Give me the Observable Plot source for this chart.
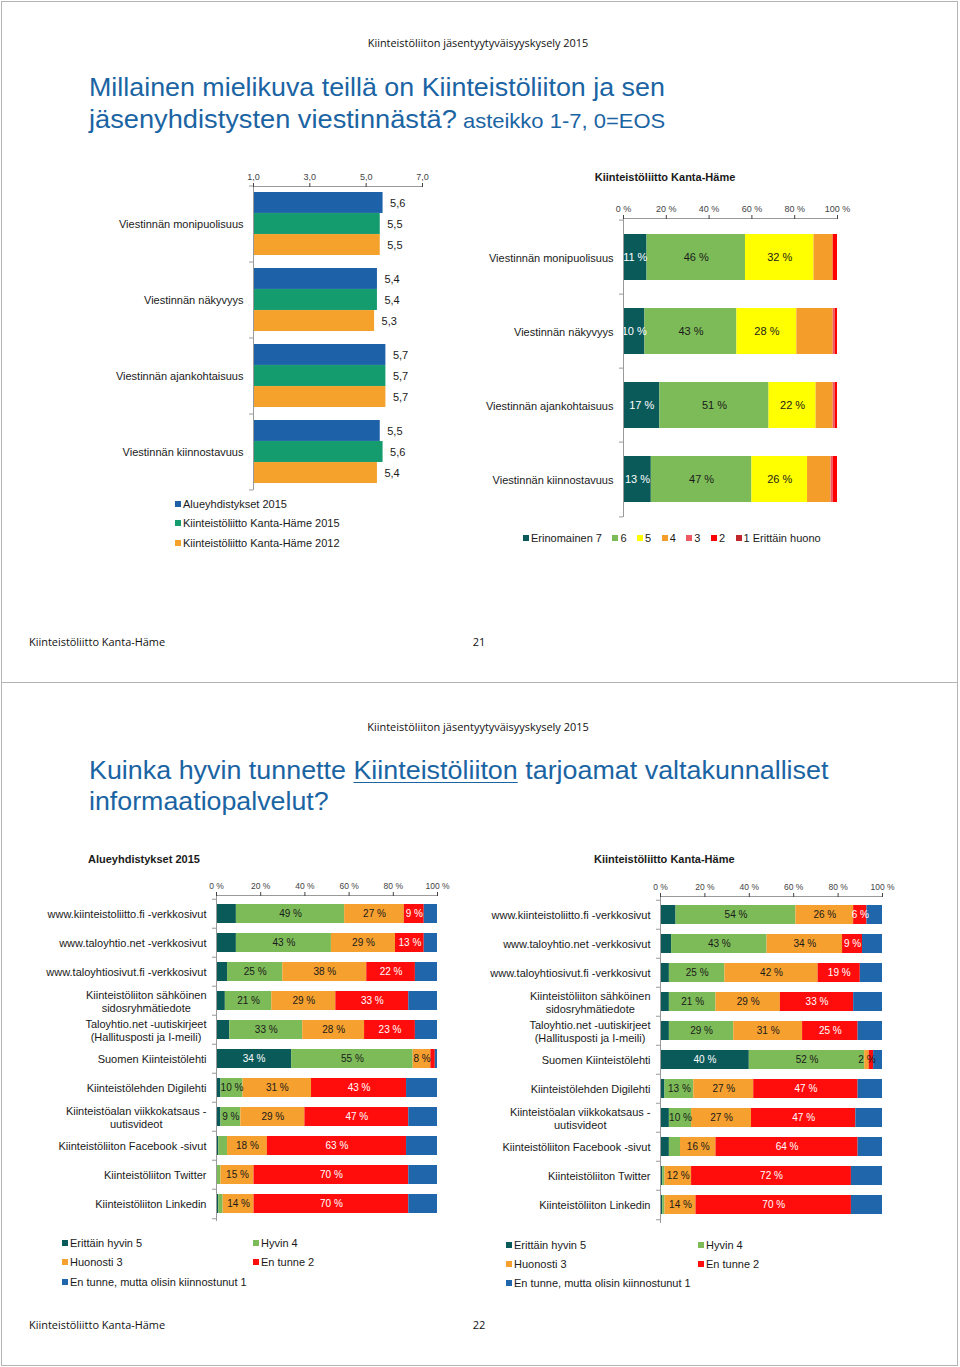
<!DOCTYPE html>
<html>
<head>
<meta charset="utf-8">
<script src="https://cdn.jsdelivr.net/npm/d3@7"></script>
<script src="https://cdn.jsdelivr.net/npm/@observablehq/plot@0.6"></script>
<style>
  body { margin: 0; background: #fff; }
  #page { position: relative; width: 960px; height: 1367px; overflow: hidden; background: #fff;
          font-family: "Liberation Sans", Arial, Helvetica, sans-serif; }
  .t { position: absolute; white-space: nowrap; line-height: 1; }
  .frame { position: absolute; border: 1px solid #b4b4b4; box-sizing: border-box; }
  .sq { position: absolute; width: 6px; height: 6px; }
  svg { position: absolute; overflow: visible; }
</style>
</head>
<body>
<div id="page"></div>
<script>
// ---------------- DATA ----------------
// Page 21: mean ratings (scale 1-7)
const ratingCategories = ["Viestinnän monipuolisuus", "Viestinnän näkyvyys", "Viestinnän ajankohtaisuus", "Viestinnän kiinnostavuus"];
const meanSeries = ["Alueyhdistykset 2015", "Kiinteistöliitto Kanta-Häme 2015", "Kiinteistöliitto Kanta-Häme 2012"];
const meanAlue2015 = [5.6, 5.4, 5.7, 5.5];
const meanKH2015   = [5.5, 5.4, 5.7, 5.6];
const meanKH2012   = [5.5, 5.3, 5.7, 5.4];
const meanTicks = [1, 3, 5, 7];

// Page 21: distribution of grades, Kiinteistöliitto Kanta-Häme (%)
const gradeSeries = ["Erinomainen 7", "6", "5", "4", "3", "2", "1 Erittäin huono"];
const grade7 = [11, 10, 17, 13];
const grade6 = [46, 43, 51, 47];
const grade5 = [32, 28, 22, 26];
const grade4 = [9, 17, 8, 11];
const grade3 = [0, 1, 1, 1];
const grade2 = [2, 1, 1, 2];
const grade1 = [0, 0, 0, 0];

// Page 22: how well services are known (%)
const serviceCategories = [
  "www.kiinteistoliitto.fi -verkkosivut",
  "www.taloyhtio.net -verkkosivut",
  "www.taloyhtiosivut.fi -verkkosivut",
  "Kiinteistöliiton sähköinen\nsidosryhmätiedote",
  "Taloyhtio.net -uutiskirjeet\n(Hallitusposti ja I-meili)",
  "Suomen Kiinteistölehti",
  "Kiinteistölehden Digilehti",
  "Kiinteistöalan viikkokatsaus -\nuutisvideot",
  "Kiinteistöliiton Facebook -sivut",
  "Kiinteistöliiton Twitter",
  "Kiinteistöliiton Linkedin"
];
const knowSeries = ["Erittäin hyvin 5", "Hyvin 4", "Huonosti 3", "En tunne 2", "En tunne, mutta olisin kiinnostunut 1"];
// Alueyhdistykset 2015
const alueHyvin5        = [9, 9, 5, 4, 6, 34, 2, 2, 1, 0, 1];
const alueHyvin4        = [49, 43, 25, 21, 33, 55, 10, 9, 4, 2, 2];
const alueHuonosti3     = [27, 29, 38, 29, 28, 8, 31, 29, 18, 15, 14];
const alueEnTunne2      = [9, 13, 22, 33, 23, 2, 43, 47, 63, 70, 70];
const alueKiinnostunut1 = [6, 6, 10, 13, 10, 1, 14, 13, 14, 13, 13];
// Kiinteistöliitto Kanta-Häme
const khHyvin5        = [7, 5, 4, 4, 4, 40, 2, 4, 4, 1, 1];
const khHyvin4        = [54, 43, 25, 21, 29, 52, 13, 10, 5, 1, 1];
const khHuonosti3     = [26, 34, 42, 29, 31, 2, 27, 27, 16, 12, 14];
const khEnTunne2      = [6, 9, 19, 33, 25, 2, 47, 47, 64, 72, 70];
const khKiinnostunut1 = [7, 9, 10, 13, 11, 4, 11, 12, 11, 14, 14];

const pctTicks = [0, 20, 40, 60, 80, 100];

// ---------------- STYLE ----------------
const FONT = '"Liberation Sans", Arial, Helvetica, sans-serif';
const CAL = '"Open Sans", "DejaVu Sans", sans-serif';
const TITLE_BLUE = "#1b64a3";
const meanColors = ["#1d62a8", "#159c6e", "#f5a22c"];
const gradeColors = ["#0b5a5a", "#7dba58", "#ffff00", "#f59d2a", "#ee5a64", "#ff0000", "#c0282d"];
const knowColors = ["#0b5a5a", "#7dba58", "#f5a02f", "#ff0d0d", "#1f66ab"];

const page = document.getElementById("page");

function box(cls, left, top, w, h, extra = {}) {
  const el = document.createElement("div");
  el.className = cls;
  Object.assign(el.style, {left: left + "px", top: top + "px", width: w + "px", height: h + "px"}, extra);
  page.appendChild(el);
  return el;
}

function txt(content, x, y, o = {}) {
  const {size = 11, weight = "normal", color = "#1a1a1a", family = FONT, anchor = "start", fit = null, html = false} = o;
  const el = document.createElement("div");
  el.className = "t";
  Object.assign(el.style, {left: x + "px", top: y + "px", fontSize: size + "px", fontWeight: weight, color, fontFamily: family});
  if (html) el.innerHTML = content; else el.textContent = content;
  page.appendChild(el);
  const k = fit ? fit / el.offsetWidth : 1;
  const tx = anchor === "middle" ? "-50%" : anchor === "end" ? "-100%" : "0";
  el.style.transformOrigin = anchor === "middle" ? "center center" : anchor === "end" ? "right center" : "left center";
  el.style.transform = `translate(${tx}, -50%) scaleX(${k})`;
  return el;
}

// Center the lines of multi-line category labels (Excel style), keeping the right edge.
function centerMultiline(svg) {
  svg.querySelectorAll("text").forEach(t => {
    const spans = t.querySelectorAll("tspan");
    if (spans.length < 2) return;
    const ws = Array.from(spans, s => s.getComputedTextLength());
    const maxW = Math.max(...ws);
    spans.forEach((s, i) => s.setAttribute("x", -(maxW - ws[i]) / 2));
  });
}

function addPlot(svg, left, top) {
  svg.style.left = left + "px";
  svg.style.top = top + "px";
  page.appendChild(svg);
  centerMultiline(svg);
}

function legendItem(color, label, x, y) {
  box("sq", x, y - 3, 6, 6, {background: color});
  txt(label, x + 8, y, {size: 11});
}

const comma = (f) => (d) => d3.format(f)(d).replace(".", ",");

// ---------------- PAGE FRAMES ----------------
box("frame", 1, 1, 957, 682);
box("frame", 1, 682, 957, 684);

// ---------------- PAGE 21 ----------------
txt("Kiinteistöliiton jäsentyytyväisyyskysely 2015", 478, 42, {size: 11, family: CAL, anchor: "middle", fit: 221, color: "#111"});
txt("Millainen mielikuva teillä on Kiinteistöliiton ja sen", 89, 87, {size: 26, color: TITLE_BLUE, fit: 576});
txt('jäsenyhdistysten viestinnästä?<span style="font-size:21px"> asteikko 1-7, 0=EOS</span>', 89, 119, {size: 26, color: TITLE_BLUE, fit: 576, html: true});
txt("Kiinteistöliitto Kanta-Häme", 29, 641, {size: 11, family: CAL, fit: 136, color: "#111"});
txt("21", 479, 641, {size: 11, family: CAL, anchor: "middle", color: "#111"});

// Chart A: grouped mean bars
{
  const A = {w: 480, h: 340, ml: 253, mr: 58, mt: 26, mb: 10, pi: 0.17, po: 0.085};
  const meanValues = [meanAlue2015, meanKH2015, meanKH2012];
  const rows = meanSeries.flatMap((s, si) => ratingCategories.map((c, ci) => ({category: c, series: s, si, value: meanValues[si][ci]})));
  const n = meanSeries.length;
  const step = (A.h - A.mt - A.mb) / (ratingCategories.length - A.pi + 2 * A.po);
  const sub = step * (1 - A.pi) / n;
  const pxPerUnit = (A.w - A.ml - A.mr) / (meanTicks[meanTicks.length - 1] - meanTicks[0]);
  const x0 = meanTicks[0];
  const svg = Plot.plot({
    width: A.w, height: A.h, marginLeft: A.ml, marginRight: A.mr, marginTop: A.mt, marginBottom: A.mb,
    style: {fontFamily: FONT, background: "transparent", overflow: "visible"},
    x: {domain: [x0, meanTicks[meanTicks.length - 1]], label: null},
    y: {domain: ratingCategories, paddingInner: A.pi, paddingOuter: A.po, axis: null, label: null},
    color: {domain: meanSeries, range: meanColors},
    marks: [
      ...meanSeries.map((s, si) => Plot.barX(rows.filter(d => d.si === si), {
        x1: x0, x2: "value", y: "category", fill: "series",
        insetTop: si * sub, insetBottom: (n - 1 - si) * sub
      })),
      ...meanSeries.map((s, si) => Plot.text(rows.filter(d => d.si === si), {
        x: "value", y: "category", dy: (si - (n - 1) / 2) * sub, dx: 7, textAnchor: "start",
        text: d => comma(".1f")(d.value), fill: "#1a1a1a", fontSize: 11
      })),
      Plot.text(ratingCategories, {y: d => d, frameAnchor: "left", dx: -10, textAnchor: "end", fill: "#1a1a1a", fontSize: 11}),
      Plot.ruleX([x0], {stroke: "#9a9a9a"}),
      Plot.ruleY(ratingCategories, {y: d => d, x1: x0 - 4 / pxPerUnit, x2: x0, dy: -step / 2, stroke: "#9a9a9a"}),
      Plot.ruleY(ratingCategories.slice(-1), {y: d => d, x1: x0 - 4 / pxPerUnit, x2: x0, dy: step / 2, stroke: "#9a9a9a"}),
      Plot.frame({anchor: "top", stroke: "#9a9a9a"}),
      Plot.axisX({anchor: "top", label: null, ticks: meanTicks, tickFormat: comma(".1f"), tickSize: 4, tickPadding: 3, fontSize: 9, color: "#444"})
    ]
  });
  addPlot(svg, 0, 160);
  meanSeries.forEach((s, i) => legendItem(meanColors[i], s, 175, 504 + i * 19.3));
}

function stackedPlot(cfg) {
  const {categories, series, colors, values, w, h, ml, mr, mt, mb, pi, po, lightSeries, labelMin, labelSize, tickFont} = cfg;
  const rows = categories.flatMap((c, ci) => series.map((s, si) => ({category: c, series: s, si, value: values[si][ci]})));
  const step = (h - mt - mb) / (categories.length - pi + 2 * po);
  const pxPerPct = (w - ml - mr) / 100;
  const label = d => d.value >= labelMin[d.si] ? `${d.value} %` : "";
  return Plot.plot({
    width: w, height: h, marginLeft: ml, marginRight: mr, marginTop: mt, marginBottom: mb,
    style: {fontFamily: FONT, background: "transparent", overflow: "visible"},
    x: {domain: [0, 100], label: null},
    y: {domain: categories, paddingInner: pi, paddingOuter: po, axis: null, label: null},
    color: {domain: series, range: colors},
    marks: [
      Plot.barX(rows, Plot.stackX({x: "value", y: "category", fill: "series"})),
      Plot.text(rows, Plot.stackX({x: "value", y: "category", z: "series",
        text: d => lightSeries.includes(d.si) ? label(d) : "", fill: "#ffffff", fontSize: labelSize})),
      Plot.text(rows, Plot.stackX({x: "value", y: "category", z: "series",
        text: d => lightSeries.includes(d.si) ? "" : label(d), fill: "#1a1a1a", fontSize: labelSize})),
      Plot.text(categories, {y: d => d, frameAnchor: "left", dx: -10, textAnchor: "end", fill: "#1a1a1a", fontSize: 11, lineHeight: 1.2}),
      Plot.ruleX([0], {stroke: "#9a9a9a"}),
      Plot.ruleY(categories, {y: d => d, x1: -4 / pxPerPct, x2: 0, dy: -step / 2, stroke: "#9a9a9a"}),
      Plot.ruleY(categories.slice(-1), {y: d => d, x1: -4 / pxPerPct, x2: 0, dy: step / 2, stroke: "#9a9a9a"}),
      Plot.frame({anchor: "top", stroke: "#9a9a9a"}),
      Plot.axisX({anchor: "top", label: null, ticks: pctTicks, tickFormat: d => `${d} %`, tickSize: 4, tickPadding: 3, fontSize: tickFont, color: "#444"})
    ]
  });
}

// Chart B: grade distribution
txt("Kiinteistöliitto Kanta-Häme", 665, 177, {size: 11, weight: "bold", anchor: "middle"});
addPlot(stackedPlot({
  categories: ratingCategories, series: gradeSeries, colors: gradeColors,
  values: [grade7, grade6, grade5, grade4, grade3, grade2, grade1],
  w: 480, h: 400, ml: 143, mr: 123, mt: 58, mb: 43, pi: 0.38, po: 0.19,
  lightSeries: [0], labelMin: [1, 1, 1, Infinity, Infinity, Infinity, Infinity], labelSize: 11, tickFont: 9
}), 480, 160);
{
  const lg = document.createElement("div");
  Object.assign(lg.style, {position: "absolute", left: "523px", top: "531px", display: "flex", gap: "10.5px", fontSize: "11px", lineHeight: "14px", color: "#1a1a1a"});
  gradeSeries.forEach((s, i) => {
    const it = document.createElement("div");
    it.style.display = "flex"; it.style.alignItems = "center";
    it.innerHTML = `<span style="display:inline-block;width:6px;height:6px;background:${gradeColors[i]};margin-right:2px"></span><span>${s}</span>`;
    lg.appendChild(it);
  });
  page.appendChild(lg);
}

// ---------------- PAGE 22 ----------------
txt("Kiinteistöliiton jäsentyytyväisyyskysely 2015", 478, 726, {size: 11, family: CAL, anchor: "middle", fit: 222, color: "#111"});
txt('Kuinka hyvin tunnette <u style="text-decoration-thickness:1px;text-underline-offset:3px">Kiinteistöliiton</u> tarjoamat valtakunnalliset', 89, 770, {size: 26, color: TITLE_BLUE, fit: 739, html: true});
txt("informaatiopalvelut?", 89, 801, {size: 26, color: TITLE_BLUE, fit: 240});
txt("Kiinteistöliitto Kanta-Häme", 29, 1324, {size: 11, family: CAL, fit: 136, color: "#111"});
txt("22", 479, 1324, {size: 11, family: CAL, anchor: "middle", color: "#111"});

txt("Alueyhdistykset 2015", 88, 859, {size: 11, weight: "bold"});
txt("Kiinteistöliitto Kanta-Häme", 594, 859, {size: 11, weight: "bold"});

const knowLabelMin = [20, 6, 2, 6, Infinity];
addPlot(stackedPlot({
  categories: serviceCategories, series: knowSeries, colors: knowColors,
  values: [alueHyvin5, alueHyvin4, alueHuonosti3, alueEnTunne2, alueKiinnostunut1],
  w: 480, h: 360, ml: 216, mr: 43, mt: 25, mb: 9, pi: 0.355, po: 0.2,
  lightSeries: [0, 3], labelMin: knowLabelMin, labelSize: 10, tickFont: 8.5
}), 0, 870);
addPlot(stackedPlot({
  categories: serviceCategories, series: knowSeries, colors: knowColors,
  values: [khHyvin5, khHyvin4, khHuonosti3, khEnTunne2, khKiinnostunut1],
  w: 480, h: 360, ml: 180, mr: 78, mt: 26, mb: 7, pi: 0.355, po: 0.22,
  lightSeries: [0, 3], labelMin: knowLabelMin, labelSize: 10, tickFont: 8.5
}), 480, 870);

// Page 22 legends (two columns)
const legendOrder = [[0, 0, 0], [1, 1, 0], [2, 0, 1], [3, 1, 1], [4, 0, 2]];
legendOrder.forEach(([si, col, row]) => {
  legendItem(knowColors[si], knowSeries[si], col ? 253 : 62, 1243 + row * 19.3);
  legendItem(knowColors[si], knowSeries[si], col ? 698 : 506, 1244.5 + row * 19.3);
});
</script>
</body>
</html>
